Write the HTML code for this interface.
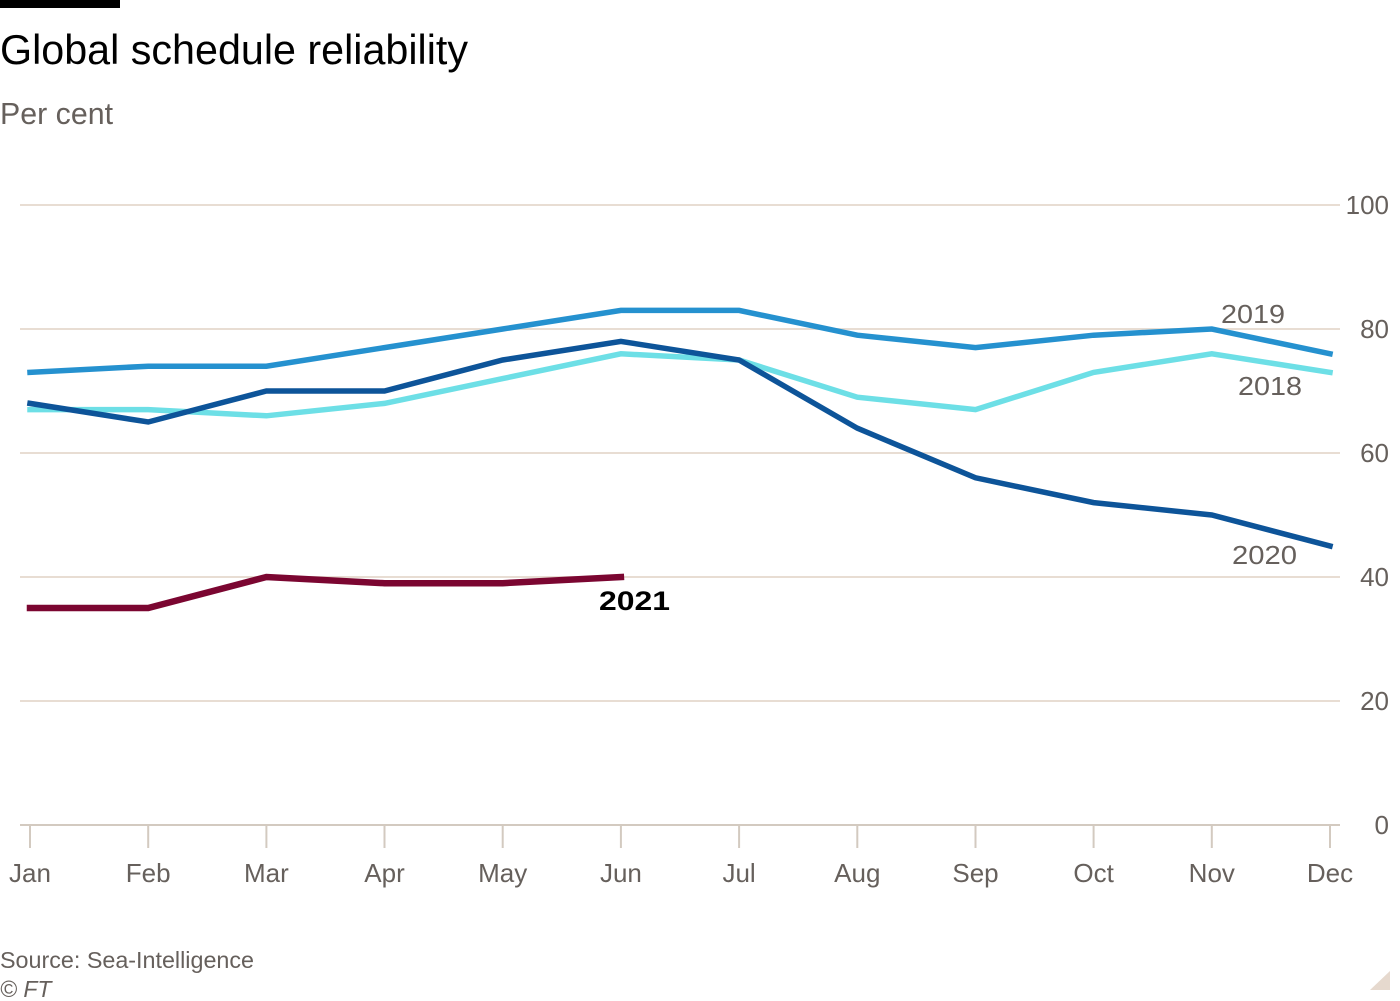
<!DOCTYPE html>
<html><head><meta charset="utf-8"><style>
html,body{margin:0;padding:0;background:#fff;}
svg{display:block;}
text{font-family:"Liberation Sans",sans-serif;}
</style></head><body>
<svg width="1400" height="1001" viewBox="0 0 1400 1001" xmlns="http://www.w3.org/2000/svg">
<rect x="0" y="0" width="1400" height="1001" fill="#fff"/>
<rect x="0" y="0" width="120" height="8" fill="#000"/>
<text x="0" y="64" font-size="42" fill="#000" textLength="468" lengthAdjust="spacingAndGlyphs">Global schedule reliability</text>
<text x="0" y="124" font-size="31" fill="#66605c" textLength="113" lengthAdjust="spacingAndGlyphs">Per cent</text>

<g stroke="#e8ddd3" stroke-width="2">
<line x1="20" y1="205" x2="1340" y2="205"/>
<line x1="20" y1="329" x2="1340" y2="329"/>
<line x1="20" y1="453" x2="1340" y2="453"/>
<line x1="20" y1="577" x2="1340" y2="577"/>
<line x1="20" y1="701" x2="1340" y2="701"/>
</g>
<g stroke="#d3cac0" stroke-width="2">
<line x1="20" y1="825" x2="1340" y2="825"/>
<line x1="30" y1="825" x2="30" y2="848"/>
<line x1="148.2" y1="825" x2="148.2" y2="848"/>
<line x1="266.4" y1="825" x2="266.4" y2="848"/>
<line x1="384.5" y1="825" x2="384.5" y2="848"/>
<line x1="502.7" y1="825" x2="502.7" y2="848"/>
<line x1="620.9" y1="825" x2="620.9" y2="848"/>
<line x1="739.1" y1="825" x2="739.1" y2="848"/>
<line x1="857.3" y1="825" x2="857.3" y2="848"/>
<line x1="975.5" y1="825" x2="975.5" y2="848"/>
<line x1="1093.6" y1="825" x2="1093.6" y2="848"/>
<line x1="1211.8" y1="825" x2="1211.8" y2="848"/>
<line x1="1330" y1="825" x2="1330" y2="848"/>
</g>

<g font-size="26" fill="#66605c" text-anchor="end">
<text x="1389" y="214">100</text>
<text x="1389" y="338">80</text>
<text x="1389" y="462">60</text>
<text x="1389" y="586">40</text>
<text x="1389" y="710">20</text>
<text x="1389" y="834">0</text>
</g>
<g font-size="26" fill="#66605c" text-anchor="middle">
<text x="30" y="882">Jan</text>
<text x="148.2" y="882">Feb</text>
<text x="266.4" y="882">Mar</text>
<text x="384.5" y="882">Apr</text>
<text x="502.7" y="882">May</text>
<text x="620.9" y="882">Jun</text>
<text x="739.1" y="882">Jul</text>
<text x="857.3" y="882">Aug</text>
<text x="975.5" y="882">Sep</text>
<text x="1093.6" y="882">Oct</text>
<text x="1211.8" y="882">Nov</text>
<text x="1330" y="882">Dec</text>
</g>

<g fill="none" stroke-linecap="square" stroke-linejoin="miter">
<polyline stroke="#6ddfe6" stroke-width="5.5" points="30,409.6 148.2,409.6 266.4,415.8 384.5,403.4 502.7,378.6 620.9,353.8 739.1,360 857.3,397.2 975.5,409.6 1093.6,372.4 1211.8,353.8 1330,372.4"/>
<polyline stroke="#2591cf" stroke-width="5.5" points="30,372.4 148.2,366.2 266.4,366.2 384.5,347.6 502.7,329 620.9,310.4 739.1,310.4 857.3,335.2 975.5,347.6 1093.6,335.2 1211.8,329 1330,353.8"/>
<polyline stroke="#0d5499" stroke-width="5.5" points="30,403.4 148.2,422 266.4,391 384.5,391 502.7,360 620.9,341.4 739.1,360 857.3,428.2 975.5,477.8 1093.6,502.6 1211.8,515 1330,546"/>
<polyline stroke="#7b0631" stroke-width="6.5" points="30,608 148.2,608 266.4,577 384.5,583.2 502.7,583.2 620.9,577"/>
</g>

<g font-size="26" fill="#66605c">
<text x="1221" y="323" textLength="64" lengthAdjust="spacingAndGlyphs">2019</text>
<text x="1238" y="395" textLength="64" lengthAdjust="spacingAndGlyphs">2018</text>
<text x="1232" y="564" textLength="65" lengthAdjust="spacingAndGlyphs">2020</text>
</g>
<text x="599" y="610" font-size="27" font-weight="bold" fill="#000" textLength="71" lengthAdjust="spacingAndGlyphs">2021</text>

<text x="0" y="968" font-size="23" fill="#66605c" textLength="254" lengthAdjust="spacingAndGlyphs">Source: Sea-Intelligence</text>
<text x="0" y="997" font-size="23" fill="#66605c" font-style="italic">© FT</text>

<polygon points="1390,971 1390,990 1370,990" fill="#e6d9ce"/>
</svg>
</body></html>
